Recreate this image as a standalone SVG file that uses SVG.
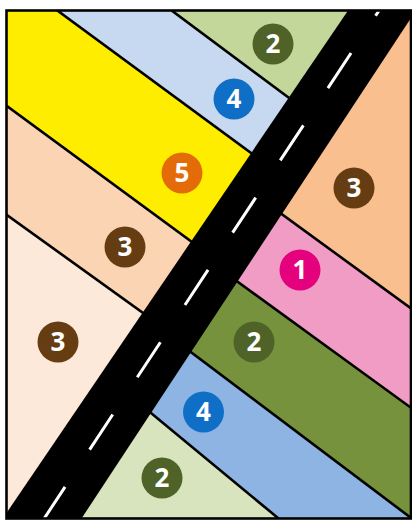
<svg xmlns="http://www.w3.org/2000/svg" width="412" height="520" viewBox="0 0 412 520">
  <style>
    .edge { stroke: #000; stroke-width: 2.6; fill: none; }
    .badge text { font-family: "Open Sans", "Liberation Sans", sans-serif; font-weight: 700; font-size: 26px; fill: #fff; text-anchor: middle; }
    .g { fill: #4F6228; }
    .b { fill: #0F6FC6; }
    .o { fill: #E36C09; }
    .br { fill: #663C12; }
    .m { fill: #E5007D; }
  </style>
  <defs>
    <clipPath id="frame"><rect x="6.5" y="10.5" width="404.5" height="508"/></clipPath>
    <clipPath id="leftHalf"><polygon points="-10,-10 395,-10 389,0 41,520 -10,520"/></clipPath>
    <clipPath id="rightHalf"><polygon points="389,0 395,-10 430,-10 430,530 41,530 41,520"/></clipPath>
  </defs>
  <rect x="0" y="0" width="412" height="520" fill="#fff"/>
  <g clip-path="url(#frame)">
    <g id="left-side" clip-path="url(#leftHalf)">
      <rect x="-10" y="-10" width="420" height="540" fill="#FDE9D9"/>
      <polygon points="0,210 400,498 400,-200 0,-200" fill="#FBD4B4"/>
      <polygon points="0,100.9 400,394.9 400,-200 0,-200" fill="#FFED00"/>
      <polygon points="0,-31.7 400,262.7 400,-200 0,-200" fill="#C6D9F1"/>
      <polygon points="0,-117.2 400,180.4 400,-200 0,-200" fill="#C4D79B"/>
      <g id="left-lines">
        <line class="edge" x1="0" y1="-117.2" x2="400" y2="180.4"/>
        <line class="edge" x1="0" y1="-31.7" x2="400" y2="262.7"/>
        <line class="edge" x1="0" y1="100.9" x2="400" y2="394.9"/>
        <line class="edge" x1="0" y1="210" x2="400" y2="498"/>
      </g>
    </g>
    <g id="right-side" clip-path="url(#rightHalf)">
      <rect x="0" y="-10" width="430" height="540" fill="#D7E4BD"/>
      <polygon points="0,288.1 420,635.5 420,-200 0,-200" fill="#8DB4E2"/>
      <polygon points="0,208.4 420,524.7 420,-200 0,-200" fill="#76923C"/>
      <polygon points="0,109 420,414.3 420,-200 0,-200" fill="#F09CC5"/>
      <polygon points="0,8.4 420,315 420,-200 0,-200" fill="#F9BF8F"/>
      <g id="right-lines">
        <line class="edge" x1="0" y1="288.1" x2="420" y2="635.5"/>
        <line class="edge" x1="0" y1="208.4" x2="420" y2="524.7"/>
        <line class="edge" x1="0" y1="109" x2="420" y2="414.3"/>
        <line class="edge" x1="0" y1="8.4" x2="420" y2="315"/>
      </g>
    </g>
    <g id="road">
      <polygon points="355.2,0 422.8,0 80.5,520 1.7,520" fill="#000"/>
      <line x1="398.7" y1="-19.3" x2="17.3" y2="559.3" stroke="#fff" stroke-width="3" stroke-dasharray="42 44.6"/>
    </g>
  </g>
  <rect id="frame-border" x="6.5" y="10.5" width="404.5" height="508" fill="none" stroke="#000" stroke-width="2.6"/>
  <g id="badges" class="badge">
    <g id="badge-2-top"><circle class="g" cx="273" cy="44" r="20.5"/><text x="273" y="53.3">2</text></g>
    <g id="badge-4-top"><circle class="b" cx="234" cy="99" r="20.5"/><text x="234" y="108.3">4</text></g>
    <g id="badge-5"><circle class="o" cx="182" cy="173" r="20.5"/><text x="182" y="182.3">5</text></g>
    <g id="badge-3-upper-left"><circle class="br" cx="125" cy="247" r="20.5"/><text x="125" y="256.3">3</text></g>
    <g id="badge-3-right"><circle class="br" cx="354" cy="188" r="20.5"/><text x="354" y="197.3">3</text></g>
    <g id="badge-1"><circle class="m" cx="300" cy="270" r="20.5"/><text x="300" y="279.3">1</text></g>
    <g id="badge-2-mid"><circle class="g" cx="254" cy="342" r="20.5"/><text x="254" y="351.3">2</text></g>
    <g id="badge-4-low"><circle class="b" cx="203.5" cy="412" r="20.5"/><text x="203.5" y="421.3">4</text></g>
    <g id="badge-3-lower-left"><circle class="br" cx="58" cy="342" r="20.5"/><text x="58" y="351.3">3</text></g>
    <g id="badge-2-bottom"><circle class="g" cx="162" cy="478" r="20.5"/><text x="162" y="487.3">2</text></g>
  </g>
</svg>
